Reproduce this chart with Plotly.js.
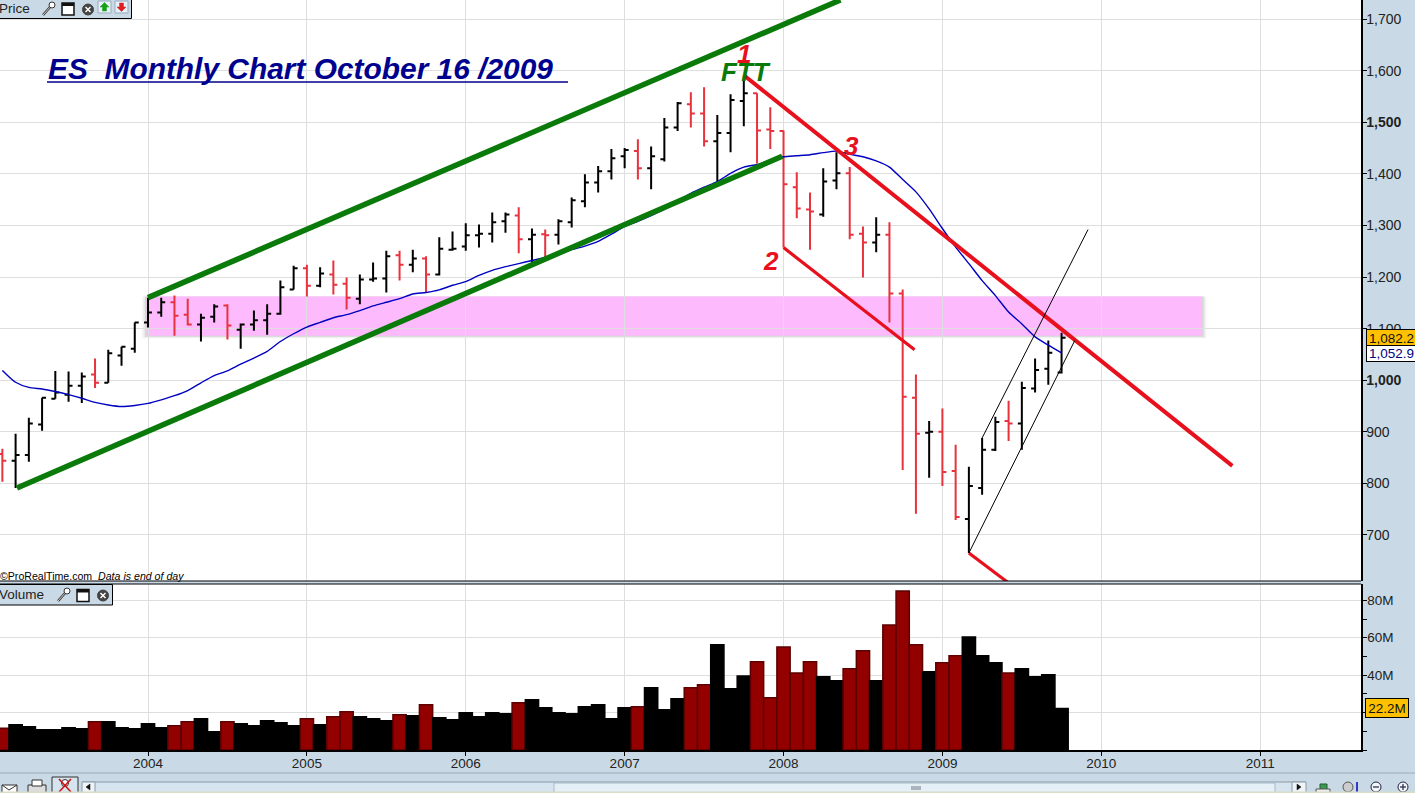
<!DOCTYPE html>
<html>
<head>
<meta charset="utf-8">
<script src="https://cdn.plot.ly/plotly-3.0.1.min.js"></script>
<style>html,body{margin:0;padding:0;background:#C9DAE6;overflow:hidden}#chart{width:1415px;height:793px}</style>
</head>
<body>
<div id="chart"></div>
<script>
// Monthly bars: first bar is Feb 2003 (month index -11), index 0 = Jan 2004
const firstMonth = -11;
const open = [857,844,855,914,964,972,989,1011,995,1048,1061,1112,1131,1151,1127,1108,1123,1145,1098,1108,1116,1129,1176,1217,1183,1205,1187,1158,1195,1197,1242,1224,1236,1205,1253,1259,1281,1284,1308,1319,1273,1283,1282,1306,1347,1383,1405,1434,1444,1411,1428,1490,1535,1517,1463,1479,1541,1556,1486,1483,1374,1331,1321,1387,1401,1284,1267,1282,1168,966,898,900,824,731,791,865,921,916,984,1022,1015];
const high = [867,896,927,966,1018,1017,1015,1042,1059,1065,1112,1160,1160,1164,1158,1129,1147,1147,1110,1135,1147,1193,1222,1224,1219,1232,1199,1205,1228,1251,1251,1253,1240,1277,1288,1304,1302,1325,1325,1335,1294,1292,1312,1354,1399,1415,1448,1450,1467,1453,1508,1539,1558,1568,1514,1554,1589,1556,1529,1484,1403,1364,1411,1442,1413,1298,1316,1306,1176,1011,921,945,875,832,888,929,960,997,1042,1077,1092];
const low = [803,791,842,902,964,958,956,985,995,1028,1053,1102,1123,1086,1106,1075,1112,1079,1061,1096,1088,1127,1176,1162,1180,1166,1137,1147,1191,1170,1193,1209,1170,1203,1251,1251,1257,1267,1286,1246,1228,1238,1263,1296,1335,1364,1389,1411,1389,1370,1424,1483,1490,1453,1385,1442,1492,1420,1448,1257,1314,1253,1317,1370,1273,1199,1248,1112,826,741,811,795,729,665,778,863,882,865,976,991,1013];
const close = [844,855,916,966,976,989,1007,995,1052,1065,1112,1131,1151,1125,1108,1121,1143,1106,1108,1116,1129,1180,1217,1183,1207,1185,1160,1195,1197,1240,1224,1236,1205,1255,1255,1281,1284,1306,1321,1273,1282,1281,1308,1349,1383,1405,1430,1446,1411,1434,1490,1537,1517,1463,1479,1543,1556,1484,1483,1380,1333,1327,1385,1401,1282,1267,1282,1168,968,896,900,822,735,795,865,919,916,985,1020,1053,1082.2];
const movingAverage = [1019,996,986,983,978,972,965,957,952,949,951,955,962,970,980,995,1009,1018,1031,1043,1056,1075,1090,1103,1112,1121,1127,1135,1144,1151,1158,1167,1170,1175,1184,1191,1203,1213,1220,1226,1232,1238,1244,1253,1260,1269,1283,1298,1308,1319,1331,1347,1362,1374,1385,1401,1413,1418,1426,1433,1435,1437,1441,1444,1438,1433,1425,1413,1389,1365,1332,1294,1258,1226,1193,1164,1132,1109,1084,1068,1052.9];
const volume = [11.6,13.5,12.4,10.8,10.8,11.9,11.4,15.1,15.1,11.9,11.4,14,11.9,13,15.1,16.7,9.8,15.1,14,13,15.6,14.6,13,16.7,13.5,17.8,20.4,17.8,16.7,15.6,18.8,18.3,24.2,17.2,16.2,19.9,17.8,19.9,19.4,25.2,26.8,22.6,19.9,19.4,23.1,24.2,16.7,22.6,23.1,33.2,21.5,27.4,33.2,34.8,56.2,32.7,39.6,47.1,27.9,55.1,41.2,47.1,39.1,37,43.4,53,37,66.8,85,56.2,41.8,46.6,50.3,60.4,50.3,46.6,41.2,43.4,39.1,40.2,22.2];
const redVolumeMonths = [-11,-4,2,3,6,12,14,15,19,21,28,37,41,42,46,47,48,49,50,53,54,56,57,58,60,61,65];

const yearTicks = [0,12,24,36,48,60,72,84];
const yearLabels = ['2004','2005','2006','2007','2008','2009','2010','2011'];
const priceTicks = [700,800,900,1000,1100,1200,1300,1400,1500,1600,1700];
const priceLabels = ['700','800','900','<b>1,000</b>','1,100','1,200','1,300','1,400','<b>1,500</b>','1,600','1,700'];
const volumeTicks = [20,40,60,80];
const volumeLabels = ['','40M','60M','80M'];

// Hand-drawn trend lines: [month, price] end points
const greenUpperX = [0,52.3], greenUpperY = [1160,1737];
const greenLowerX = [-9.9,47.9], greenLowerY = [791,1434];
const redMainX = [45.1,81.9], redMainY = [1589,834];
const redMidX = [48,57.9], redMidY = [1257,1059];
const redLowX = [62,64.9], redLowY = [665,609];
const blackUpperX = [63,71], blackUpperY = [888,1292];
const blackLowerX = [62,70], blackLowerY = [665,1077];
const bandMonths = [-0.1,79.6], bandPrices = [1086,1162];

const months = open.map((_, i) => i + firstMonth);
const W = 1361, H = 750;
const X = p => p / W, Y = p => (H - p) / H;
const FONT = 'Liberation Sans, Arial, sans-serif';

const lineTrace = (x, y, color, width) => ({type:'scatter',mode:'lines',x,y,xaxis:'x',yaxis:'y',line:{color,width},hoverinfo:'skip'});

const traces = [
  {type:'bar',x:months,y:volume,xaxis:'x',yaxis:'y2',width:1,
   marker:{color:months.map(m=>redVolumeMonths.includes(m)?'#930000':'#000000'),
           line:{color:months.map(m=>redVolumeMonths.includes(m)?'#5C0000':'#000000'),width:1.5}},hoverinfo:'skip'},
  {type:'ohlc',x:months,open,high,low,close,xaxis:'x',yaxis:'y',tickwidth:0.3,
   increasing:{line:{color:'#000000',width:2}},decreasing:{line:{color:'#E8323E',width:2}},hoverinfo:'skip'},
  {type:'scatter',mode:'lines',x:months,y:movingAverage,xaxis:'x',yaxis:'y',line:{color:'#0000C0',width:1.4,shape:'spline',smoothing:0.6},hoverinfo:'skip'},
  lineTrace(greenUpperX,greenUpperY,'#0A7A0A',5.5),
  lineTrace(greenLowerX,greenLowerY,'#0A7A0A',5.5),
  lineTrace(redMainX,redMainY,'#E8101C',4),
  lineTrace(redMidX,redMidY,'#E8101C',3.2),
  lineTrace(redLowX,redLowY,'#E8101C',3.2),
  lineTrace(blackUpperX,blackUpperY,'#000000',1),
  lineTrace(blackLowerX,blackLowerY,'#000000',1)
];

const rectPx = (x0,y0,x1,y1,fill,line,lw) => ({type:'rect',xref:'paper',yref:'paper',layer:'above',x0:X(x0),x1:X(x1),y0:Y(y0),y1:Y(y1),fillcolor:fill,line:{color:line||'rgba(0,0,0,0)',width:line?(lw||1):0}});
const linePx = (x0,y0,x1,y1,color,w) => ({type:'line',xref:'paper',yref:'paper',layer:'above',x0:X(x0),x1:X(x1),y0:Y(y0),y1:Y(y1),line:{color,width:w||1}});
const circlePx = (cx,cy,r,fill,line) => ({type:'circle',xref:'paper',yref:'paper',layer:'above',x0:X(cx-r),x1:X(cx+r),y0:Y(cy+r),y1:Y(cy-r),fillcolor:fill,line:{color:line||fill,width:1}});
const polyPx = (pts,fill) => ({type:'path',xref:'paper',yref:'paper',layer:'above',path:'M'+pts.map(p=>X(p[0])+','+Y(p[1])).join('L')+'Z',fillcolor:fill,line:{color:fill,width:0.5}});
const bandRect = (ext,fill) => ({type:'rect',xref:'x',yref:'y',layer:'below',x0:bandMonths[0]-ext*0.15,x1:bandMonths[1]+ext*0.15,y0:bandPrices[0]-ext*2,y1:bandPrices[1],fillcolor:fill,line:{width:0}});

const wrench = (cx,cy) => [linePx(cx-5,cy+6,cx+3,cy-3,'#333',2.5),linePx(cx-5,cy+6,cx+3,cy-3,'#fff',0.8),circlePx(cx+4,cy-4,3,'#fff','#333')];
const windowIcon = (cx,cy) => [rectPx(cx-6,cy-6,cx+6,cy+6,'#fff','#111',1.5),rectPx(cx-6,cy-6,cx+6,cy-3,'#111')];
const closeIcon = (cx,cy) => [circlePx(cx,cy,5.5,'#444'),linePx(cx-2.5,cy-2.5,cx+2.5,cy+2.5,'#fff',1.5),linePx(cx-2.5,cy+2.5,cx+2.5,cy-2.5,'#fff',1.5)];

const shapes = [
  bandRect(2.5,'rgba(120,120,120,0.06)'),
  bandRect(1.6,'rgba(120,120,120,0.10)'),
  bandRect(0.8,'rgba(120,120,120,0.16)'),
  {type:'rect',xref:'x',yref:'y',layer:'below',x0:bandMonths[0],x1:bandMonths[1],y0:bandPrices[0],y1:bandPrices[1],fillcolor:'#FFB9FF',opacity:0.95,line:{width:0}},
  // title underline
  linePx(47,82,568,82,'#00008B',1.3),
  // panel separator
  linePx(0,581,W,581,'#000',1),
  linePx(0,584,W,584,'#000',1.2),
  // price panel tag
  rectPx(-2,-2,131.5,18.5,'#C9DAE6','#000',1),
  ...wrench(48,9),...windowIcon(68,9),...closeIcon(88,9.5),
  rectPx(98,1,111,13,'#E6F0F8','#9AB'),polyPx([[100,7],[104.5,2.5],[109,7],[106.5,7],[106.5,11],[102.5,11],[102.5,7]],'#18A018'),
  rectPx(115,1,128,13,'#E6F0F8','#9AB'),polyPx([[117,7],[121.5,11.5],[126,7],[123.5,7],[123.5,3],[119.5,3],[119.5,7]],'#E02020'),
  // volume panel tag
  rectPx(-2,584.5,112.5,605,'#C9DAE6','#000',1),
  ...wrench(63,595),...windowIcon(83,595.5),...closeIcon(103,595.5),
  // bottom window chrome
  linePx(0,773,1415,773,'#9DAAB4',1),
  rectPx(82,782,1306,793,'#D5E4EE'),
  linePx(82,782,1306,782,'#8C9AA6',1),
  rectPx(554,783,1275,793,'#E4EFF6','#A8BAC6'),
  linePx(911,787,921,787,'#778',1),linePx(911,789,921,789,'#778',1),
  rectPx(82,782,95,793,'#EEF4F8','#8C9AA6'),polyPx([[86,787],[90,784],[90,790]],'#111'),
  rectPx(1292,782,1306,793,'#EEF4F8','#8C9AA6'),polyPx([[1301,787],[1297,784],[1297,790]],'#111'),
  rectPx(2,785,17,793,'#fff','#333'),linePx(2,785,9,790,'#333',1),linePx(17,785,9,790,'#333',1),
  rectPx(28,785,46,793,'#ddd','#333'),rectPx(32,780,42,786,'#fff','#333'),
  rectPx(52,777,78,793,'#D5E4EE','#333'),circlePx(65,783,3.5,'#fff','#333'),linePx(59,779,71,792,'#D01010',1.5),linePx(71,779,59,792,'#D01010',1.5),
  rectPx(1320,784,1327,791,'#3C9A50','#1c5c2c'),rectPx(1316,789,1330,793,'#eee','#555'),
  circlePx(1348,787,5,'#ccc','#555'),linePx(1357,782,1357,792,'#0000C0',1.5),
  circlePx(1376,787,5,'#F0F6FA','#224'),linePx(1373,787,1379,787,'#224',1.2),
  circlePx(1403,787,5,'#F0F6FA','#224'),linePx(1400,787,1406,787,'#224',1.2),linePx(1403,784,1403,790,'#224',1.2),
  rectPx(0,791.5,1415,793,'#D8DCC8')
];

const note = (px,py,text,size,color,opts) => Object.assign({xref:'paper',yref:'paper',x:X(px),y:Y(py),text,showarrow:false,xanchor:'center',yanchor:'middle',font:{family:FONT,size,color}},opts||{});
const tag = (py,text,bg,color,left,w,h) => ({xref:'paper',yref:'paper',x:X(left),y:Y(py),xanchor:'left',yanchor:'middle',text,showarrow:false,width:w,height:h,bgcolor:bg,bordercolor:'#000',borderwidth:1,borderpad:0,font:{family:FONT,size:13.5,color}});

const annotations = [
  note(45.5,68,'<b><i>ES\u00A0\u00A0Monthly Chart October 16 /2009</i></b>',29.9,'#00008E',{xanchor:'left'}),
  note(744,54,'<b><i>1</i></b>',26,'#E8101C'),
  note(746,72,'<b><i>FTT</i></b>',26,'#0A7A0A'),
  note(771,261,'<b><i>2</i></b>',26,'#E8101C'),
  note(851,146,'<b><i>3</i></b>',26,'#E8101C'),
  note(-2,575.5,'©ProRealTime.com  <i>Data is end of day</i>',10.6,'#000',{xanchor:'left'}),
  note(-3,8,'Price',13.5,'#222',{xanchor:'left'}),
  note(-3,594,'Volume',13.5,'#222',{xanchor:'left'}),
  tag(338,'1,082.2','#FFC000','#111',1366,49,16),
  tag(353.5,'1,052.9','#FFFFFF','#000080',1366,49,15),
  tag(708,'22.2M','#FFC000','#111',1365,42,18)
];

const layout = {
  width:1415,height:793,autosize:false,
  margin:{l:0,r:54,t:0,b:43,pad:0},
  paper_bgcolor:'#C9DAE6',plot_bgcolor:'#FFFFFF',
  showlegend:false,hovermode:false,dragmode:false,
  font:{family:FONT,size:13,color:'#222'},
  xaxis:{domain:[0,1],anchor:'y2',type:'linear',range:[-148/13.24,(W-148)/13.24],
    tickmode:'array',tickvals:yearTicks,ticktext:yearLabels,ticks:'outside',ticklen:4,tickcolor:'#000',ticklabelstandoff:-4,
    showgrid:true,gridcolor:'#DEDEE2',gridwidth:1,zeroline:false,showline:true,linecolor:'#000',linewidth:1.5,
    rangeslider:{visible:false},tickfont:{family:FONT,size:13.5,color:'#222'}},
  yaxis:{domain:[Y(581),1],anchor:'x',side:'right',type:'linear',range:[610.8,1736.9],
    tickmode:'array',tickvals:priceTicks,ticktext:priceLabels,ticks:'outside',ticklen:4,tickcolor:'#000',ticklabelstandoff:-3,
    showgrid:true,gridcolor:'#DEDEDE',gridwidth:1,zeroline:false,showline:true,linecolor:'#000',linewidth:1.5,
    tickfont:{family:FONT,size:14,color:'#222'}},
  yaxis2:{domain:[0,Y(584)],anchor:'x',side:'right',type:'linear',range:[0,88.7],
    tickmode:'array',tickvals:volumeTicks,ticktext:volumeLabels,ticks:'outside',ticklen:4,tickcolor:'#000',ticklabelstandoff:-2,
    minor:{dtick:10,ticks:'outside',ticklen:4,tickcolor:'#000',showgrid:false},
    showgrid:true,gridcolor:'#DEDEDE',gridwidth:1,zeroline:false,showline:true,linecolor:'#000',linewidth:1.5,
    tickfont:{family:FONT,size:13.5,color:'#222'}},
  bargap:0,shapes,annotations
};

Plotly.newPlot('chart',traces,layout,{displayModeBar:false,staticPlot:true});
</script>
</body>
</html>
